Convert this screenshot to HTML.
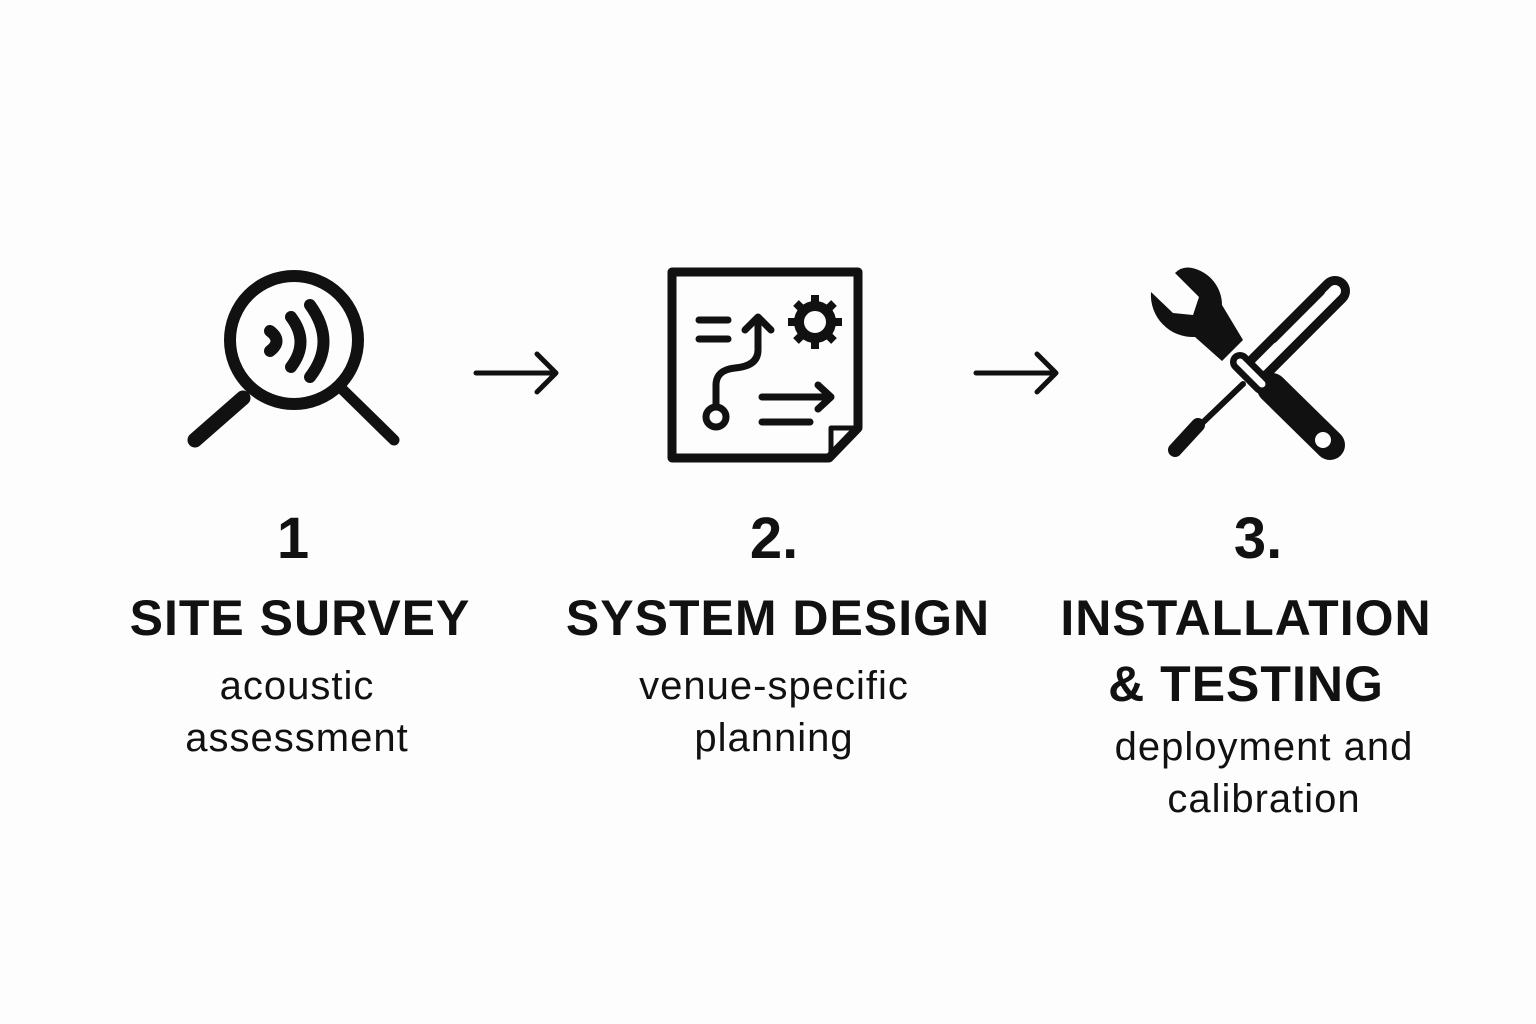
<!DOCTYPE html>
<html><head><style>
html,body{margin:0;padding:0;background:#fdfdfd;}
body{width:1536px;height:1024px;position:relative;overflow:hidden;font-family:"Liberation Sans",sans-serif;color:#111;}
.t{position:absolute;text-align:center;white-space:nowrap;}
.n{font-weight:bold;font-size:58px;}
.h{font-weight:bold;font-size:50px;line-height:66px;letter-spacing:1px;}
.s{font-size:40px;line-height:52px;letter-spacing:1px;}
</style></head><body>
<svg width="1536" height="1024" style="position:absolute;left:0;top:0" fill="none" stroke="#111" stroke-linecap="round" stroke-linejoin="round">
<!-- magnifier -->
<circle cx="294" cy="340" r="64" stroke-width="12"/>
<line x1="243" y1="398" x2="195" y2="440" stroke-width="15"/>
<line x1="343" y1="390" x2="394" y2="440" stroke-width="11"/>
<path d="M270 331 Q283 341 270 351" stroke-width="12"/>
<path d="M291 317 Q310 342 291 367" stroke-width="12"/>
<path d="M310 305 Q337 342 310 377" stroke-width="12"/>
<!-- arrows -->
<path d="M476 373 H555 M537 354 L556 373 L537 392" stroke-width="5"/>
<path d="M976 373 H1055 M1037 354 L1056 373 L1037 392" stroke-width="5"/>
<!-- document -->
<path d="M672 272 H858 V428 L829 458 H672 Z" stroke-width="9"/>
<path d="M858 428 H831 V458" stroke-width="5"/>
<line x1="699" y1="320" x2="728" y2="320" stroke-width="7"/>
<line x1="699" y1="339" x2="728" y2="339" stroke-width="7"/>
<circle cx="716" cy="417" r="10" stroke-width="7"/>
<path d="M716 407 V385 Q716 370 735 368 Q758 366 758 350 V322 M745 330 L758 317 L771 330" stroke-width="7"/>
<path d="M762 397 H830 M818 385 L831 397 L818 409" stroke-width="7"/>
<line x1="762" y1="422" x2="810" y2="422" stroke-width="7"/>
<g transform="translate(815,322)">
<circle r="16" stroke-width="10"/>
<g stroke-width="8" stroke-linecap="butt">
<line x1="0" y1="-18" x2="0" y2="-27"/><line x1="0" y1="18" x2="0" y2="27"/>
<line x1="-18" y1="0" x2="-27" y2="0"/><line x1="18" y1="0" x2="27" y2="0"/>
<line x1="13" y1="13" x2="19" y2="19"/><line x1="-13" y1="-13" x2="-19" y2="-19"/>
<line x1="13" y1="-13" x2="19" y2="-19"/><line x1="-13" y1="13" x2="-19" y2="19"/>
</g></g>
<!-- wrench -->
<path d="M1151 292 L1173 313 L1193 315 L1199 297 L1175 273 Q1182 266 1192 268 A38 38 0 0 1 1222 305 L1243 340 L1222 361 L1195 337 A42 42 0 0 1 1151 292 Z" fill="#111" stroke="none"/>
<path d="M1272 388 L1330 445" stroke-width="30"/>
<circle cx="1323" cy="440" r="8" fill="#fdfdfd" stroke="none"/>
<!-- screwdriver -->
<path d="M1260 366 L1335 291" stroke-width="30"/>
<path d="M1260 366 L1335 291" stroke="#fdfdfd" stroke-width="12"/>
<path d="M1274 340 L1322 292" stroke-width="6"/>
<path d="M1240 362 L1262 384" stroke-width="20"/>
<path d="M1240 362 L1262 384" stroke="#fdfdfd" stroke-width="7"/>
<path d="M1243 384 L1195 430" stroke-width="6"/>
<path d="M1198 425 L1175 450" stroke-width="14"/>
</svg>
<div class="t n" style="left:193px;width:200px;top:505px;">1</div>
<div class="t n" style="left:674px;width:200px;top:505px;">2.</div>
<div class="t n" style="left:1158px;width:200px;top:505px;">3.</div>
<div class="t h" style="left:0;width:600px;top:585px;">SITE SURVEY</div>
<div class="t h" style="left:478px;width:600px;top:585px;">SYSTEM DESIGN</div>
<div class="t h" style="left:946px;width:600px;top:585px;">INSTALLATION<br>&amp; TESTING</div>
<div class="t s" style="left:0;width:594px;top:660px;">acoustic<br>assessment</div>
<div class="t s" style="left:474px;width:600px;top:660px;">venue-specific<br>planning</div>
<div class="t s" style="left:964px;width:600px;top:721px;">deployment and<br>calibration</div>
</body></html>
